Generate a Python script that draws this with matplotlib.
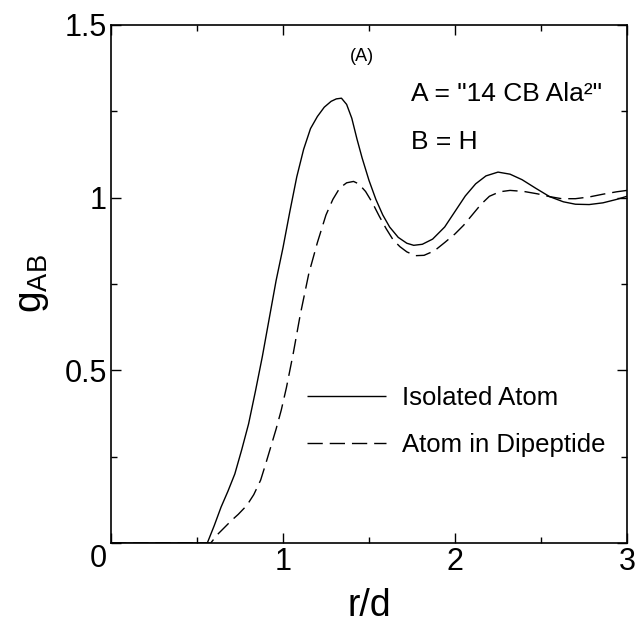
import matplotlib
matplotlib.use("Agg")
import matplotlib.pyplot as plt
from matplotlib.ticker import MultipleLocator

plt.rcParams['font.family'] = ['Liberation Sans', 'DejaVu Sans']
plt.rcParams['mathtext.fontset'] = 'custom'
plt.rcParams['mathtext.rm'] = 'Liberation Sans'
plt.rcParams['mathtext.it'] = 'Liberation Sans'

# ---- data ----
r_iso = [0.0, 0.56, 0.60, 0.64, 0.68, 0.72, 0.76, 0.80, 0.84, 0.88,
         0.92, 0.96, 1.00, 1.04, 1.08, 1.12, 1.16, 1.20, 1.24, 1.28,
         1.31, 1.34, 1.37, 1.40, 1.43, 1.46, 1.50, 1.54, 1.58, 1.62,
         1.67, 1.72, 1.76, 1.81, 1.87, 1.94, 2.00, 2.06, 2.12, 2.18,
         2.25, 2.32, 2.39, 2.47, 2.55, 2.63, 2.70, 2.78, 2.86, 2.94, 3.00]
g_iso = [0.0, 0.0, 0.05, 0.104, 0.15, 0.20, 0.27, 0.345, 0.44, 0.54,
         0.65, 0.76, 0.855, 0.96, 1.06, 1.14, 1.20, 1.235, 1.262, 1.279,
         1.286, 1.288, 1.27, 1.23, 1.17, 1.115, 1.05, 0.995, 0.95, 0.915,
         0.885, 0.868, 0.862, 0.865, 0.88, 0.915, 0.96, 1.005, 1.04, 1.063,
         1.074, 1.068, 1.052, 1.027, 1.003, 0.988, 0.981, 0.980, 0.985, 0.995, 1.004]

r_dip = [0.0, 0.58, 0.62, 0.66, 0.70, 0.74, 0.79, 0.83, 0.87, 0.90,
         0.93, 0.96, 0.99, 1.02, 1.06, 1.10, 1.15, 1.20, 1.25, 1.29,
         1.33, 1.37, 1.41, 1.44, 1.48, 1.52, 1.56, 1.60, 1.64, 1.68,
         1.72, 1.77, 1.82, 1.88, 1.94, 2.00, 2.05, 2.10, 2.15, 2.20,
         2.26, 2.32, 2.40, 2.48, 2.55, 2.62, 2.70, 2.78, 2.86, 2.94, 3.00]
g_dip = [0.0, 0.0, 0.025, 0.045, 0.065, 0.083, 0.109, 0.14, 0.182, 0.23,
         0.28, 0.33, 0.385, 0.45, 0.55, 0.66, 0.78, 0.87, 0.95, 0.995,
         1.028, 1.043, 1.047, 1.04, 1.018, 0.985, 0.946, 0.91, 0.878, 0.858,
         0.843, 0.832, 0.833, 0.846, 0.87, 0.895, 0.92, 0.95, 0.98, 1.004,
         1.017, 1.021, 1.018, 1.011, 1.003, 0.997, 0.997, 1.002, 1.01, 1.017, 1.021]

series_labels = ["Isolated Atom", "Atom in Dipeptide"]
x_ticks = [0, 1, 2, 3]
x_ticklabels = ["", "1", "2", "3"]
y_ticks = [0, 0.5, 1, 1.5]
y_ticklabels = ["", "0.5", "1", "1.5"]

fig = plt.figure(figsize=(6.4, 6.23), dpi=100)
ax = fig.add_axes([0.1734, 0.1284, 0.8063, 0.8315])

l1, = ax.plot(r_iso, g_iso, color='black', lw=1.0, solid_capstyle='butt')
l2, = ax.plot(r_dip, g_dip, color='black', lw=1.0, dashes=(11, 5))

ax.set_xlim(0, 3)
ax.set_ylim(0, 1.5)
ax.set_xticks(x_ticks)
ax.set_xticklabels(x_ticklabels)
ax.set_yticks(y_ticks)
ax.set_yticklabels(y_ticklabels)
ax.xaxis.set_minor_locator(MultipleLocator(0.5))
ax.yaxis.set_minor_locator(MultipleLocator(0.25))
ax.tick_params(which='both', direction='in', top=True, right=True, width=1.0)
ax.tick_params(which='major', length=7, labelsize=22, pad=3)
ax.tick_params(which='minor', length=4.5)
ax.tick_params(axis='y', which='major', pad=3)
for s in ax.spines.values():
    s.set_linewidth(1.2)

# shared origin label
ax.text(-0.075, -0.046, "0", fontsize=22, ha='center', va='center')

ax.set_xlabel("r/d", fontsize=27, labelpad=8)
ax.set_ylabel(r"$\mathregular{g_{AB}}$", fontsize=28, labelpad=10)

ax.text(1.46, 1.41, "(A)", fontsize=13, ha='center', va='center')
ax.text(1.747, 1.30, 'A = "14 CB Ala²"', fontsize=19, ha='left', va='center')
ax.text(1.747, 1.16, "B = H", fontsize=19, ha='left', va='center')

leg = ax.legend([l1, l2], series_labels, loc='center left',
                bbox_to_anchor=(0.379, 0.2346), frameon=False, fontsize=18.5,
                handlelength=3.1, handletextpad=0.62, labelspacing=0.9,
                borderpad=0, borderaxespad=0)

fig.savefig("out.png", dpi=100)
